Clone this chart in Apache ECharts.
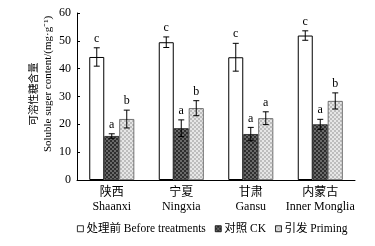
<!DOCTYPE html>
<html><head><meta charset="utf-8">
<script src="https://cdn.jsdelivr.net/npm/echarts@6/dist/echarts.min.js"></script>
<style>html,body{margin:0;padding:0;background:#fff}#c{width:375px;height:246px}</style>
</head><body><div id="c"></div>
<script>
var categories = ['陕西\nShaanxi', '宁夏\nNingxia', '甘肃\nGansu', '内蒙古\nInner Monglia'];
var seriesNames = ['处理前 Before treatments', '对照 CK', '引发 Priming'];
var beforeVals = [44.2, 49.5, 44.1, 51.9];
var ckVals = [15.8, 18.6, 16.5, 20.0];
var primingVals = [21.9, 25.8, 22.2, 28.4];
var beforeErr = [3.3, 1.9, 5.0, 1.7];
var ckErr = [0.8, 3.0, 2.4, 1.8];
var primingErr = [3.2, 2.7, 2.3, 2.9];
var beforeLetters = ['c', 'c', 'c', 'c'];
var ckLetters = ['a', 'a', 'a', 'a'];
var primingLetters = ['b', 'b', 'a', 'b'];
var yTicks = [0, 10, 20, 30, 40, 50, 60];

function pattern(c1, c2) {
  var cv = document.createElement('canvas');
  cv.width = 4; cv.height = 4;
  var ctx = cv.getContext('2d');
  ctx.fillStyle = c1; ctx.fillRect(0, 0, 4, 4);
  ctx.fillStyle = c2;
  ctx.fillRect(0, 0, 2, 2); ctx.fillRect(2, 2, 2, 2);
  return { image: cv, repeat: 'repeat' };
}
var darkPat = pattern('#2e2e2e', '#6a6a6a');
var lightPat = pattern('#e6e6e6', '#bdbdbd');

var BW = 15;
var serif = '"Liberation Serif","Noto Sans CJK SC",serif';
var chart = echarts.init(document.getElementById('c'));

function errSeries(vals, errs, letters, idx) {
  var data = vals.map(function (v, i) { return [i, v, errs[i], letters[i]]; });
  return {
    type: 'custom', silent: true, z: 10,
    data: data,
    renderItem: function (params, api) {
      var ci = api.value(0), v = api.value(1), e = api.value(2);
      var p = api.coord([ci, v]);
      var x = p[0] + (idx - 1) * BW;
      var top = api.coord([ci, v + e])[1];
      var bot = api.coord([ci, v - e])[1];
      var cap = 3;
      var st = { stroke: '#000', lineWidth: 1 };
      return {
        type: 'group', children: [
          { type: 'line', shape: { x1: x, y1: top, x2: x, y2: bot }, style: st },
          { type: 'line', shape: { x1: x - cap, y1: top, x2: x + cap, y2: top }, style: st },
          { type: 'line', shape: { x1: x - cap, y1: bot, x2: x + cap, y2: bot }, style: st },
          { type: 'text', style: { text: letters[params.dataIndex], x: x, y: top - 3, textAlign: 'center', textVerticalAlign: 'bottom', font: '12px ' + serif, fill: '#000' } }
        ]
      };
    }
  };
}

chart.setOption({
  animation: false,
  grid: { left: 77, right: 20, top: 13, bottom: 66 },
  legend: {
    data: seriesNames, left: 72, top: 218, itemWidth: 6, itemHeight: 6, itemGap: 9,
    icon: 'rect',
    textStyle: { fontFamily: serif, fontSize: 11.5, color: '#000', padding: [0, 0, 0, -2] },
    itemStyle: { borderColor: '#000', borderWidth: 0.8 }
  },
  xAxis: {
    type: 'category', data: categories,
    axisLine: { lineStyle: { color: '#000', width: 1 } },
    axisTick: { inside: true, length: 3, lineStyle: { color: '#000' } },
    axisLabel: { interval: 0, fontFamily: serif, fontSize: 12, color: '#000', lineHeight: 14, margin: 6 }
  },
  yAxis: {
    type: 'value', min: 0, max: 60, interval: 10,
    axisLine: { show: true, lineStyle: { color: '#000', width: 1 } },
    axisTick: { show: true, inside: true, length: 3, lineStyle: { color: '#000' } },
    splitLine: { show: false },
    axisLabel: { fontFamily: serif, fontSize: 12, color: '#000', margin: 6,
      formatter: function (v) { return yTicks.indexOf(v) >= 0 ? String(v) : ''; } }
  },
  graphic: [
    { type: 'text', x: 33, y: 94, rotation: Math.PI / 2,
      style: { text: '可溶性糖含量', font: '10.5px "Noto Sans CJK SC",sans-serif', fill: '#000', textAlign: 'center', textVerticalAlign: 'middle' } },
    { type: 'text', x: 48, y: 84, rotation: Math.PI / 2,
      style: { text: 'Soluble suger content/(mg·g⁻¹)', font: '11px ' + serif, fill: '#000', textAlign: 'center', textVerticalAlign: 'middle' } }
  ],
  series: [
    { name: seriesNames[0], type: 'bar', data: beforeVals, barWidth: BW, barGap: '0%',
      itemStyle: { color: '#fff', borderColor: '#000', borderWidth: 1 } },
    { name: seriesNames[1], type: 'bar', data: ckVals, barWidth: BW, barGap: '0%',
      itemStyle: { color: darkPat, borderColor: '#222', borderWidth: 0.8 } },
    { name: seriesNames[2], type: 'bar', data: primingVals, barWidth: BW, barGap: '0%',
      itemStyle: { color: lightPat, borderColor: '#555', borderWidth: 0.8 } },
    errSeries(beforeVals, beforeErr, beforeLetters, 0),
    errSeries(ckVals, ckErr, ckLetters, 1),
    errSeries(primingVals, primingErr, primingLetters, 2)
  ]
});
</script></body></html>
